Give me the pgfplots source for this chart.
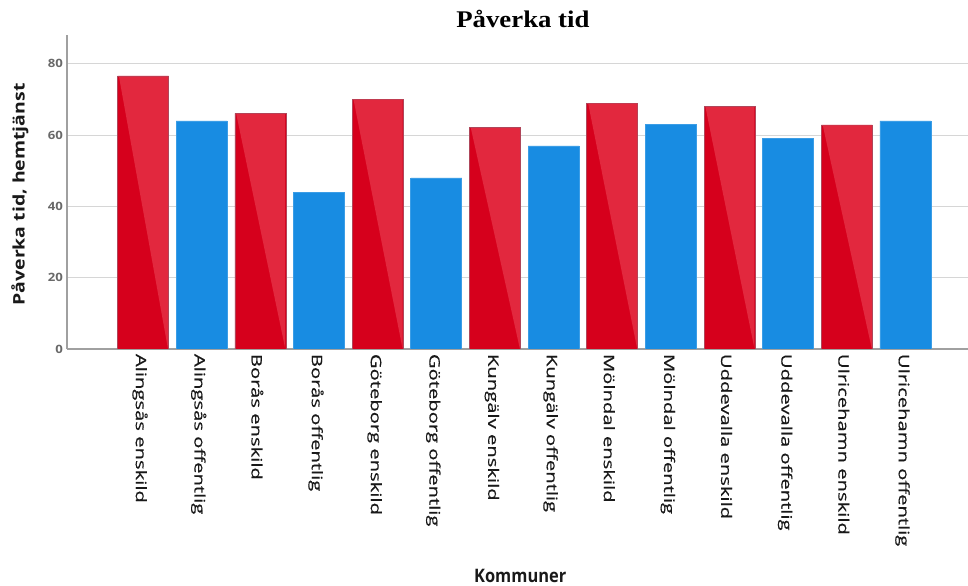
\documentclass[border=0pt]{standalone}
\usepackage{fontspec}
\setmainfont{Liberation Serif}
\setsansfont{Open Sans}
\newfontfamily\lblfont{Open Sans}[FakeBold=0.5]
\usepackage{pgfplots}
\usepackage{pgfplotstable}
\pgfplotsset{compat=1.18}

\definecolor{redD}{RGB}{214,0,28}
\definecolor{redL}{RGB}{226,40,62}
\definecolor{redEdge}{RGB}{175,70,90}
\definecolor{blueB}{RGB}{24,140,226}
\definecolor{gridC}{RGB}{214,214,214}
\definecolor{axisC}{RGB}{160,160,160}
\definecolor{txtC}{RGB}{25,25,25}
\definecolor{numC}{RGB}{105,105,105}

% Private providers (even positions) and public providers (odd positions)
\pgfplotstableread{
x val
0 76.6
2 66.1
4 70.1
6 62.1
8 69.0
10 68.0
12 62.9
}\enskild
\pgfplotstableread{
x val
1 64.0
3 44.0
5 48.0
7 57.0
9 63.1
11 59.1
13 64.0
}\offentlig

\begin{document}
\begin{tikzpicture}
\useasboundingbox (0,0) rectangle (968bp,586bp);
\begin{axis}[
  at={(67bp,237bp)}, anchor=south west,
  scale only axis, width=901bp, height=314bp,
  xmin=-1.296, xmax=14.066, ymin=0, ymax=88.1,
  ybar, bar width=51bp,
  axis lines*=left,
  axis line style={draw=axisC, line width=1.2bp},
  major tick length=0pt,
  ytick={0,20,40,60,80},
  ymajorgrids, grid style={draw=gridC, line width=1.2bp},
  xtick={0,...,13},
  xticklabels={Alingsås enskild, Alingsås offentlig, Borås enskild, Borås offentlig,
    Göteborg enskild, Göteborg offentlig, Kungälv enskild, Kungälv offentlig,
    Mölndal enskild, Mölndal offentlig, Uddevalla enskild, Uddevalla offentlig,
    Ulricehamn enskild, Ulricehamn offentlig},
  /pgf/number format/assume math mode=true,
  yticklabel style={font=\sffamily\bfseries\fontsize{11.5}{11.5}\selectfont, text=numC, xscale=1.15},
  xticklabel style={font=\lblfont\fontsize{14.5}{14.5}\selectfont, text=txtC,
    rotate=-90, anchor=west, xscale=1.4, yshift=-3bp},
  title={Påverka tid},
  title style={font=\bfseries\fontsize{24}{24}\selectfont, xscale=1.12,
    at={(axis description cs:0.506,1.0256)}, anchor=base, yshift=-7bp},
  ylabel={Påverka tid, hemtjänst},
  ylabel style={font=\sffamily\bfseries\fontsize{16}{16}\selectfont, text=txtC,
    at={(axis description cs:-0.0522,0.492)}, anchor=center, xscale=1.22},
  xlabel={Kommuner},
  xlabel style={font=\sffamily\bfseries\fontsize{16.5}{16.5}\selectfont, text=txtC,
    at={(axis description cs:0.503,-0.722)}, anchor=center, yscale=1.13},
]
\addplot[bar shift=0pt, fill=redD, draw=redEdge, line width=0.6bp]
  table[x=x, y=val] {\enskild};
\addplot[bar shift=0pt, fill=blueB, draw=blueB!85!white, line width=0.6bp]
  table[x=x, y=val] {\offentlig};
% lighter upper-right half of every red bar
\pgfplotsforeachungrouped \i in {0,...,6}{%
  \pgfplotstablegetelem{\i}{x}\of\enskild \let\xx\pgfplotsretval
  \pgfplotstablegetelem{\i}{val}\of\enskild \let\vv\pgfplotsretval
  \pgfmathsetmacro\xl{\xx-0.41}%
  \pgfmathsetmacro\xr{\xx+0.425}%
  \pgfmathsetmacro\vt{\vv-0.15}%
  \edef\tri{\noexpand\addplot[ybar=0pt, sharp plot, fill=redL, draw=none, forget plot]
    coordinates {(\xl,\vt) (\xr,\vt) (\xr,0.1)} -- cycle;}%
  \tri
}
\end{axis}
\end{tikzpicture}
\end{document}
